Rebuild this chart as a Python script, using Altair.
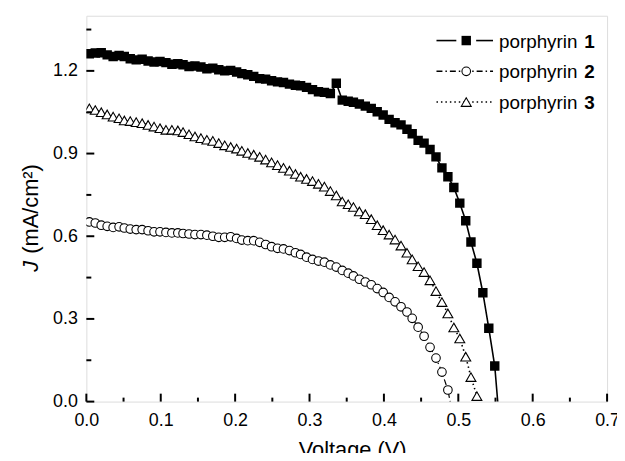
import altair as alt
import pandas as pd

# ---- data ----
voltage = [0.004, 0.012, 0.020, 0.028, 0.036, 0.044, 0.051, 0.059, 0.067, 0.075,
           0.083, 0.091, 0.099, 0.107, 0.115, 0.123, 0.130, 0.138, 0.146, 0.154,
           0.162, 0.170, 0.178, 0.186, 0.194, 0.202, 0.209, 0.217, 0.225, 0.233,
           0.241, 0.249, 0.257, 0.265, 0.273, 0.281, 0.288, 0.296, 0.304, 0.312,
           0.320, 0.328, 0.336, 0.344, 0.352, 0.359, 0.367, 0.375, 0.383, 0.391,
           0.399, 0.407, 0.415, 0.423, 0.431, 0.438, 0.446, 0.454, 0.462, 0.470,
           0.478, 0.486, 0.494, 0.502, 0.510, 0.517, 0.525, 0.533, 0.541, 0.549,
           0.557]

j_porph1 = [1.262, 1.265, 1.266, 1.258, 1.252, 1.256, 1.252, 1.244, 1.240, 1.242,
            1.236, 1.232, 1.234, 1.230, 1.224, 1.226, 1.222, 1.216, 1.218, 1.214,
            1.208, 1.210, 1.204, 1.200, 1.202, 1.196, 1.190, 1.186, 1.180, 1.172,
            1.170, 1.164, 1.160, 1.158, 1.152, 1.148, 1.146, 1.140, 1.132, 1.124,
            1.122, 1.118, 1.155, 1.094, 1.090, 1.086, 1.080, 1.072, 1.064, 1.052,
            1.040, 1.024, 1.012, 1.004, 0.988, 0.972, 0.948, 0.938, 0.915, 0.888,
            0.848, 0.816, 0.777, 0.720, 0.656, 0.579, 0.502, 0.395, 0.266, 0.129,
            -0.13]

j_porph2 = [0.652, 0.648, 0.640, 0.636, 0.632, 0.634, 0.630, 0.626, 0.624, 0.624,
            0.620, 0.616, 0.616, 0.614, 0.612, 0.612, 0.610, 0.608, 0.606, 0.606,
            0.604, 0.600, 0.596, 0.596, 0.598, 0.592, 0.586, 0.584, 0.584, 0.578,
            0.570, 0.562, 0.556, 0.554, 0.548, 0.540, 0.534, 0.524, 0.516, 0.510,
            0.506, 0.496, 0.488, 0.476, 0.466, 0.456, 0.444, 0.434, 0.424, 0.410,
            0.396, 0.378, 0.362, 0.344, 0.325, 0.302, 0.270, 0.237, 0.197, 0.158,
            0.107, 0.042, -0.07]

j_porph3 = [1.064, 1.058, 1.050, 1.042, 1.034, 1.028, 1.020, 1.018, 1.014, 1.010,
            1.004, 0.998, 0.992, 0.986, 0.986, 0.984, 0.978, 0.970, 0.962, 0.956,
            0.950, 0.946, 0.938, 0.930, 0.924, 0.918, 0.910, 0.902, 0.896, 0.888,
            0.878, 0.868, 0.858, 0.848, 0.838, 0.826, 0.816, 0.808, 0.800, 0.790,
            0.780, 0.764, 0.748, 0.726, 0.716, 0.706, 0.690, 0.680, 0.662, 0.640,
            0.622, 0.606, 0.588, 0.566, 0.540, 0.516, 0.491, 0.470, 0.440, 0.401,
            0.361, 0.320, 0.269, 0.229, 0.163, 0.089, 0.020]

x_major = [0.0, 0.1, 0.2, 0.3, 0.4, 0.5, 0.6, 0.7]
x_minor = [0.05, 0.15, 0.25, 0.35, 0.45, 0.55, 0.65]
y_major = [0.0, 0.3, 0.6, 0.9, 1.2]
y_minor = [0.15, 0.45, 0.75, 1.05, 1.35]

legend_names = ["porphyrin", "porphyrin", "porphyrin"]
legend_nums = ["1", "2", "3"]

FONT = "Liberation Sans"
W, H = 525, 389
SQ, CI, TR = 90, 75, 100

df1 = pd.DataFrame({"V": voltage[:len(j_porph1)], "J": j_porph1})
df2 = pd.DataFrame({"V": voltage[:len(j_porph2)], "J": j_porph2})
df3 = pd.DataFrame({"V": voltage[:len(j_porph3)], "J": j_porph3})

xs = alt.Scale(domain=[0, 0.7], nice=False, zero=False)
ys = alt.Scale(domain=[0, 1.4], nice=False, zero=False)

common = dict(domain=False, grid=False, ticks=False, labelFlush=False,
              labelOverlap=False, labelBound=False)

ax_x = alt.Axis(values=x_major, format=".1f", labelPadding=10, labelFontSize=18,
                labelColor="black", labelFont=FONT,
                title="Voltage (V)", titleFontSize=22, titleFont=FONT,
                titleFontWeight="normal", titleColor="black", titlePadding=10,
                titleX=268, orient="bottom", **common)
ax_y = alt.Axis(values=y_major, format=".1f", labelPadding=9, labelFontSize=18,
                labelColor="black", labelFont=FONT, title=None, orient="left", **common)


def X(field):
    return alt.X(field, scale=xs, axis=ax_x)


def Y(field):
    return alt.Y(field, scale=ys, axis=ax_y)


line1 = alt.Chart(df1).mark_line(color="black", strokeWidth=1.6, clip=True).encode(
    x=X("V:Q"), y=Y("J:Q"))
pts1 = alt.Chart(df1).mark_point(shape="square", filled=True, color="black", size=SQ,
                                 opacity=1, clip=True).encode(x=X("V:Q"), y=Y("J:Q"))
line2 = alt.Chart(df2).mark_line(color="black", strokeWidth=1.2, strokeDash=[6, 3, 1.5, 3],
                                 clip=True).encode(x=X("V:Q"), y=Y("J:Q"))
pts2 = alt.Chart(df2).mark_point(shape="circle", filled=True, fill="white", stroke="black",
                                 strokeWidth=1.1, size=CI, opacity=1, clip=True).encode(
    x=X("V:Q"), y=Y("J:Q"))
line3 = alt.Chart(df3).mark_line(color="black", strokeWidth=1.6, strokeDash=[1.5, 3],
                                 clip=True).encode(x=X("V:Q"), y=Y("J:Q"))
pts3 = alt.Chart(df3).mark_point(shape="triangle-up", filled=True, fill="white", stroke="black",
                                 strokeWidth=1.1, size=TR, opacity=1, clip=True).encode(
    x=X("V:Q"), y=Y("J:Q"))


# inward-pointing ticks on the bottom and left edges, placed by the scales
def xticks(vals, length):
    return alt.Chart(pd.DataFrame({"t": vals})).mark_rule(color="black", strokeWidth=2).encode(
        x=X("t:Q"), y=alt.value(H), y2=alt.value(H - length))


def yticks(vals, length):
    return alt.Chart(pd.DataFrame({"t": vals})).mark_rule(color="black", strokeWidth=2).encode(
        y=Y("t:Q"), x=alt.value(0), x2=alt.value(length))


one = alt.InlineData(values=[{"a": 1}])

layers = [line1, pts1, line2, line3, pts2, pts3,
          xticks(x_major, 8), xticks(x_minor, 4), yticks(y_major, 8), yticks(y_minor, 5)]

# legend (inside the plot, top right)
row_y = [25, 56, 87]
line_dash = [None, [6, 3, 1.5, 3], [1.5, 3]]
for k in range(3):
    yv = row_y[k]
    if k == 0:
        for x1, x2 in [(353, 373), (393, 410)]:
            layers.append(alt.Chart(one).mark_rule(color="black", strokeWidth=1.6).encode(
                x=alt.value(x1), x2=alt.value(x2), y=alt.value(yv)))
        layers.append(alt.Chart(one).mark_point(shape="square", filled=True, color="black",
                                                size=SQ, opacity=1).encode(
            x=alt.value(383), y=alt.value(yv)))
    else:
        layers.append(alt.Chart(one).mark_rule(color="black", strokeWidth=1.4,
                                               strokeDash=line_dash[k]).encode(
            x=alt.value(353), x2=alt.value(410), y=alt.value(yv)))
        shp = "circle" if k == 1 else "triangle-up"
        sz = CI if k == 1 else TR
        layers.append(alt.Chart(one).mark_point(shape=shp, filled=True, fill="white",
                                                stroke="black", strokeWidth=1.1, size=sz,
                                                opacity=1).encode(
            x=alt.value(383), y=alt.value(yv)))
    layers.append(alt.Chart(one).mark_text(text=legend_names[k], font=FONT, fontSize=19,
                                           align="left", baseline="middle",
                                           color="black").encode(
        x=alt.value(416), y=alt.value(yv + 1)))
    layers.append(alt.Chart(one).mark_text(text=legend_nums[k], font=FONT, fontSize=19,
                                           fontWeight="bold", align="left",
                                           baseline="middle", color="black").encode(
        x=alt.value(502), y=alt.value(yv + 1)))

# y-axis title with italic J
layers.append(alt.Chart(one).mark_text(text="J", font=FONT, fontSize=22, fontStyle="italic",
                                       angle=270, align="right", baseline="alphabetic",
                                       color="black").encode(
    x=alt.value(-49), y=alt.value(247)))
layers.append(alt.Chart(one).mark_text(text="(mA/cm²)", font=FONT, fontSize=22,
                                       angle=270, align="left", baseline="alphabetic",
                                       color="black").encode(
    x=alt.value(-49), y=alt.value(240)))

chart = alt.layer(*layers).properties(
    width=W, height=H,
    autosize=alt.AutoSizeParams(type="none"),
    padding={"left": 79, "top": 6, "right": 10, "bottom": 50},
).configure_view(stroke="black", strokeWidth=2).configure(background="white")

chart.save("out.html", embed_options={"renderer": "svg", "actions": False})
